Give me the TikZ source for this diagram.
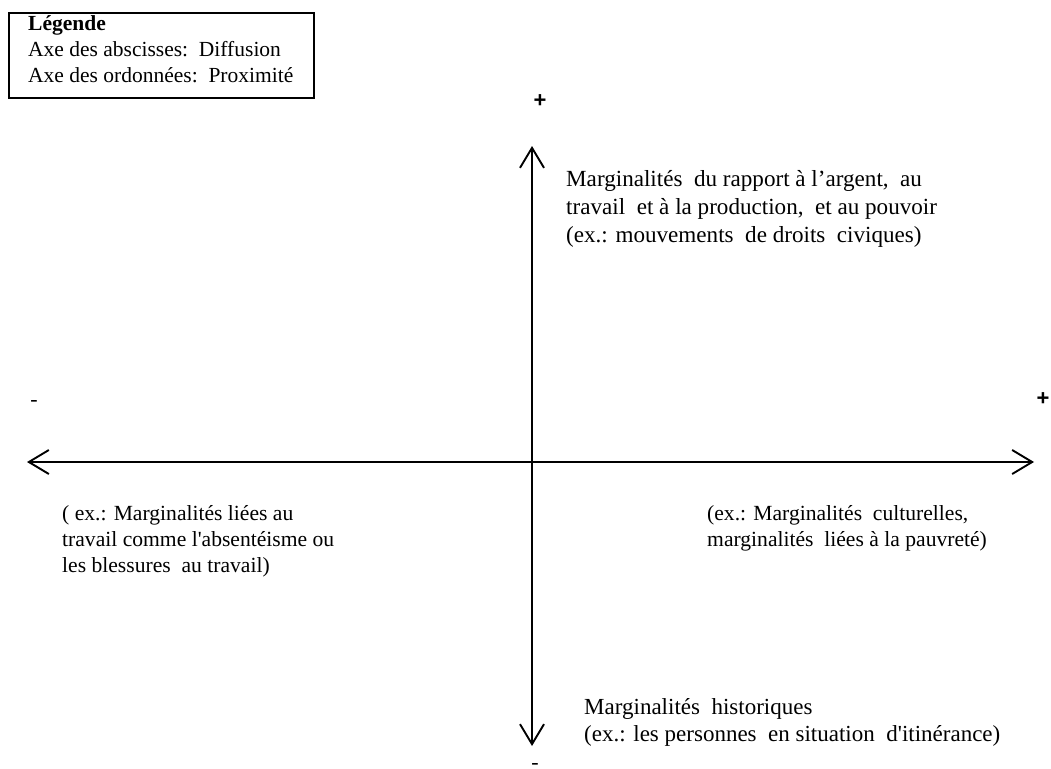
\documentclass[tikz,border=0pt]{standalone}
\usepackage{fontspec}
\setmainfont{Liberation Serif}
\newfontfamily\signfont{Liberation Sans}
\usetikzlibrary{arrows.meta}
\begin{document}
\begin{tikzpicture}[x=1pt,y=-1pt,
  axis/.style={line width=1.9pt,{Straight Barb[length=20pt,width=24pt,line width=1.9pt]}-{Straight Barb[length=20pt,width=24pt,line width=1.9pt]}},
  body/.style 2 args={anchor=north west,inner sep=0pt,align=left,font=\fontsize{#1}{#2}\selectfont},
  sign/.style={inner sep=0pt,font=\fontsize{22}{26}\signfont\bfseries},
  legendbox/.style={draw,line width=1.6pt,minimum width=305pt,minimum height=85pt,anchor=north west,inner sep=0pt}]
\useasboundingbox (0,0) rectangle (1051,768);

% legend
\node[legendbox] (legend) at (8,12) {};
\node[anchor=north west,inner sep=0pt,align=left,font=\fontsize{21.5}{26}\selectfont] (legendtext) at (28,12.3)
  {\strut\textbf{Légende}\\
   \strut Axe des abscisses:\ \ Diffusion\\
   \strut Axe des ordonnées:\ \ Proximité};

% axes
\coordinate (ytop) at (532,146);
\coordinate (ybot) at (532,746);
\coordinate (xleft) at (27,462);
\coordinate (xright) at (1034,462);
\draw[axis] (ybot) -- (ytop);
\draw[axis] (xleft) -- (xright);

% axis ends
\node[sign] (yplus) at (540,101) {+};
\node[sign,anchor=base,font=\fontsize{22}{26}\selectfont] (yminus) at (535,769) {-};
\node[sign,anchor=base,font=\fontsize{22}{26}\selectfont] (xminus) at (34,406.5) {-};
\node[sign] (xplus) at (1043,399) {+};

% quadrant texts
\node[body={23.1}{28}] (north) at (566,166.4)
  {\strut Marginalités~ du rapport à l’argent,~ au\\
   \strut travail~ et à la production,~ et au pouvoir\\
   \strut (ex.: mouvements~ de droits~ civiques)};
\node[body={21.6}{26}] (west) at (62,501.8)
  {\strut ( ex.: Marginalités liées au\\
   \strut travail comme l\textquotesingle absentéisme ou\\
   \strut les blessures~ au travail)};
\node[body={21.6}{26}] (east) at (707,501.8)
  {\strut (ex.: Marginalités~ culturelles,\\
   \strut marginalités~ liées à la pauvreté)};
\node[body={23}{27}] (south) at (584,695.1)
  {\strut Marginalités~ historiques\\
   \strut (ex.: les personnes~ en situation~ d\textquotesingle itinérance)};
\end{tikzpicture}
\end{document}
